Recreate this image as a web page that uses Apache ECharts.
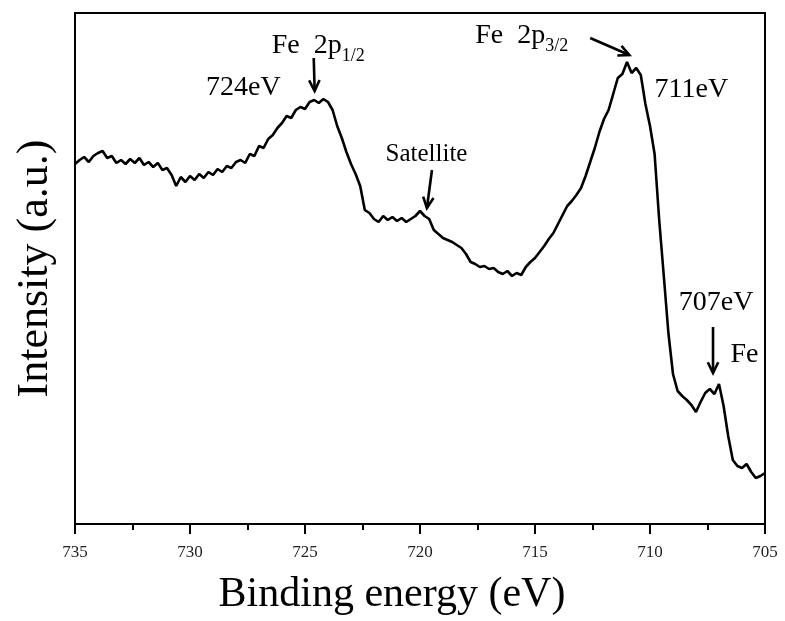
<!DOCTYPE html>
<html>
<head>
<meta charset="utf-8">
<script src="https://cdn.jsdelivr.net/npm/echarts@6/dist/echarts.min.js"></script>
<style>
html,body{margin:0;padding:0;background:#fff;}
#chart{width:785px;height:621px;}
</style>
</head>
<body>
<div id="chart"></div>
<script>
// Binding energy grid: 735.0 eV down to 705.0 eV, 0.2 eV step
const energyStart = 735.0;
const energyStep = 0.2;
// Intensity (a.u.), one value per energy step
const intensity = [
  360,364,367,362,368,371,373,366,368,361,
  364,360,365,361,366,359,362,357,361,354,
  356,349,338,347,342,348,344,350,346,352,
  349,355,352,358,356,362,364,361,370,368,
  378,376,385,389,396,401,408,406,414,417,
  415,422,424,421,425,422,414,398,386,372,
  360,350,338,314,311,305,302,308,304,307,
  303,306,302,305,308,313,308,305,294,290,
  286,284,282,279,276,270,262,260,257,258,
  255,256,252,250,253,248,251,249,257,262,
  266,272,278,285,291,300,309,318,323,329,
  336,348,362,376,392,405,414,430,446,450,
  462,451,456,449,420,398,370,304,248,191,
  150,133,128,124,119,112,122,131,135,130,
  140,118,88,64,58,56,60,52,46,48,
  51
];
const xTickLabels = ['705','710','715','720','725','730','735'];

// Annotations (text) anchored in data coordinates [eV, intensity]
const annotationTexts = [
  {text: '{m|Fe  2p}{s|1/2}', at: [726.45, 478]},
  {text: '{m|724eV}', at: [729.3, 436]},
  {text: '{m|Fe  2p}{s|3/2}', at: [717.6, 488]},
  {text: '{m|711eV}', at: [709.8, 434]},
  {text: '{n|Satellite}', at: [721.5, 370]},
  {text: '{m|707eV}', at: [708.75, 221]},
  {text: '{m|Fe}', at: [706.5, 169]}
];
// Arrows: [from, to] in data coordinates
const annotationArrows = [
  [[724.62, 466], [724.58, 433]],
  [[712.6, 486], [710.9, 469]],
  [[719.48, 354], [719.7, 316]],
  [[707.26, 197], [707.26, 151]]
];

const seriesData = intensity.map((v, i) => [Math.round((energyStart - energyStep * i) * 10) / 10, v]);

const chart = echarts.init(document.getElementById('chart'), null, {renderer: 'canvas'});
const serif = 'Liberation Serif, Times New Roman, serif';

const option = {
  animation: false,
  backgroundColor: '#fff',
  grid: {left: 75, right: 20, top: 13, bottom: 97, show: true, borderColor: '#000', borderWidth: 2, backgroundColor: 'transparent'},
  xAxis: {
    type: 'value', min: 705, max: 735, interval: 5, inverse: true,
    axisLine: {show: true, lineStyle: {color: '#000', width: 2}},
    axisTick: {show: true, inside: false, length: 10, lineStyle: {color: '#000', width: 2}},
    minorTick: {show: true, splitNumber: 2, length: 6, lineStyle: {color: '#000', width: 2}},
    splitLine: {show: false},
    axisLabel: {
      color: '#222', fontFamily: serif, fontSize: 17, margin: 20,
      formatter: v => xTickLabels.includes(String(v)) ? String(v) : ''
    },
    name: 'Binding energy (eV)', nameLocation: 'middle', nameGap: 50,
    nameTextStyle: {color: '#000', fontFamily: serif, fontSize: 42, padding: [0, 56, 0, 0]}
  },
  yAxis: {
    type: 'value', min: 0, max: 511,
    axisLine: {show: true, lineStyle: {color: '#000', width: 2}},
    axisTick: {show: false}, axisLabel: {show: false}, splitLine: {show: false},
    name: 'Intensity (a.u.)', nameLocation: 'middle', nameGap: 18,
    nameTextStyle: {color: '#000', fontFamily: serif, fontSize: 44}
  },
  series: [{
    type: 'line', data: seriesData, showSymbol: false, symbol: 'none',
    lineStyle: {color: '#000', width: 2.6}, z: 3
  }]
};
chart.setOption(option);

function px(p) { return chart.convertToPixel({gridIndex: 0}, p); }
const graphics = [];
annotationTexts.forEach(a => {
  const p = px(a.at);
  graphics.push({
    type: 'text', x: p[0], y: p[1], z: 10,
    style: {
      text: a.text, fill: '#000', align: 'left', verticalAlign: 'middle',
      rich: {
        m: {fontFamily: serif, fontSize: 28, lineHeight: 38, verticalAlign: 'middle', fill: '#000'},
        n: {fontFamily: serif, fontSize: 25, lineHeight: 32, fill: '#000'},
        s: {fontFamily: serif, fontSize: 18, lineHeight: 18, verticalAlign: 'bottom', fill: '#000'}
      }
    }
  });
});
annotationArrows.forEach(a => {
  const s = px(a[0]), e = px(a[1]);
  const ang = Math.atan2(e[1] - s[1], e[0] - s[0]);
  const hl = 12, ha = 0.45;
  const h1 = [e[0] - hl * Math.cos(ang - ha), e[1] - hl * Math.sin(ang - ha)];
  const h2 = [e[0] - hl * Math.cos(ang + ha), e[1] - hl * Math.sin(ang + ha)];
  graphics.push({type: 'polyline', z: 10, shape: {points: [s, e]}, style: {stroke: '#000', lineWidth: 2.6, fill: null}});
  graphics.push({type: 'polyline', z: 10, shape: {points: [h1, e, h2]}, style: {stroke: '#000', lineWidth: 2.6, fill: null, lineJoin: 'miter'}});
});
chart.setOption({graphic: graphics});
</script>
</body>
</html>
